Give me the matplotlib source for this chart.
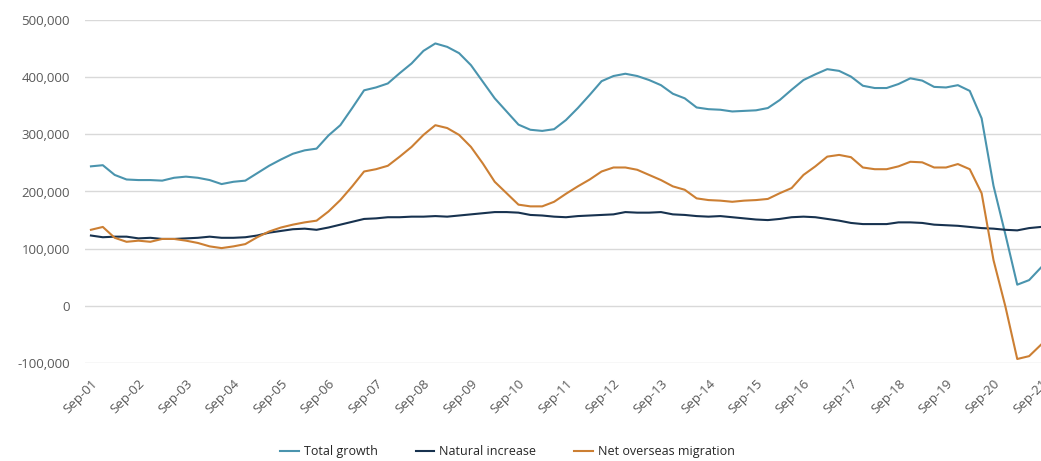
import matplotlib.pyplot as plt
from matplotlib.ticker import FuncFormatter

plt.rcParams['font.family'] = ['Open Sans', 'DejaVu Sans']

# trimestres Sep-01 .. Sep-21 (81 puntos), valores en miles
total_growth = [244, 246, 229, 221, 220, 220, 219, 224, 226, 224, 220, 213, 217, 219, 232, 245,
                256, 266, 272, 275, 298, 316, 346, 377, 382, 389, 407, 424, 446, 459, 453, 442,
                421, 392, 363, 340, 317, 308, 306, 309, 325, 346, 369, 393, 402, 406, 402, 395,
                386, 371, 363, 347, 344, 343, 340, 341, 342, 346, 360, 378, 395, 405, 414, 411,
                401, 385, 381, 381, 388, 398, 394, 383, 382, 386, 376, 328, 210, 125, 37, 45, 67]
natural_increase = [123, 120, 121, 121, 118, 119, 117, 117, 118, 119, 121, 119, 119, 120, 123, 128,
                    131, 134, 135, 133, 137, 142, 147, 152, 153, 155, 155, 156, 156, 157, 156, 158,
                    160, 162, 164, 164, 163, 159, 158, 156, 155, 157, 158, 159, 160, 164, 163, 163,
                    164, 160, 159, 157, 156, 157, 155, 153, 151, 150, 152, 155, 156, 155, 152, 149,
                    145, 143, 143, 143, 146, 146, 145, 142, 141, 140, 138, 136, 135, 133, 132, 136, 138]
net_overseas = [133, 138, 119, 112, 114, 112, 117, 117, 114, 110, 104, 101, 104, 108, 120, 130,
                137, 142, 146, 149, 165, 185, 209, 235, 239, 245, 261, 278, 299, 316, 311, 299,
                278, 249, 217, 197, 177, 174, 174, 182, 196, 209, 221, 235, 242, 242, 238, 229,
                220, 209, 203, 188, 185, 184, 182, 184, 185, 187, 197, 206, 229, 244, 261, 264,
                260, 242, 239, 239, 244, 252, 251, 242, 242, 248, 239, 197, 80, -1, -93, -88, -68]
tick_labels = ['Sep-%02d' % y for y in range(1, 22)]

x = list(range(len(total_growth)))

fig = plt.figure(figsize=(10.41, 4.61), dpi=100)
ax = fig.add_axes([85 / 1041, 1 - 363 / 461, 1 - 85 / 1041, (363 - 20) / 461])

ax.plot(x, [v * 1000 for v in total_growth], color='#4a94ae', lw=1.5, label='Total growth')
ax.plot(x, [v * 1000 for v in natural_increase], color='#17324f', lw=1.5, label='Natural increase')
ax.plot(x, [v * 1000 for v in net_overseas], color='#cc7f33', lw=1.5, label='Net overseas migration')

ax.set_xlim(-0.5, 80)
ax.set_ylim(-100000, 500000)
ax.set_yticks(range(-100000, 500001, 100000))
ax.yaxis.set_major_formatter(FuncFormatter(lambda v, p: '{:,.0f}'.format(v)))
ax.set_xticks(range(0, 81, 4))
ax.set_xticklabels(tick_labels, rotation=45, ha='right', rotation_mode='anchor')

ax.grid(axis='y', color='#d9d9d9', lw=1)
ax.set_axisbelow(True)
for s in ax.spines.values():
    s.set_visible(False)
ax.tick_params(axis='both', length=0, labelsize=9.5, labelcolor='#595959')
ax.tick_params(axis='y', pad=11)
ax.tick_params(axis='x', pad=10)

fig.legend(loc='lower center', bbox_to_anchor=(0.4875, -0.018), ncol=3, frameon=False,
           fontsize=9, handlelength=1.5, handletextpad=0.4, columnspacing=3.0,
           labelcolor='#262626')

fig.savefig('out.png', dpi=100)
